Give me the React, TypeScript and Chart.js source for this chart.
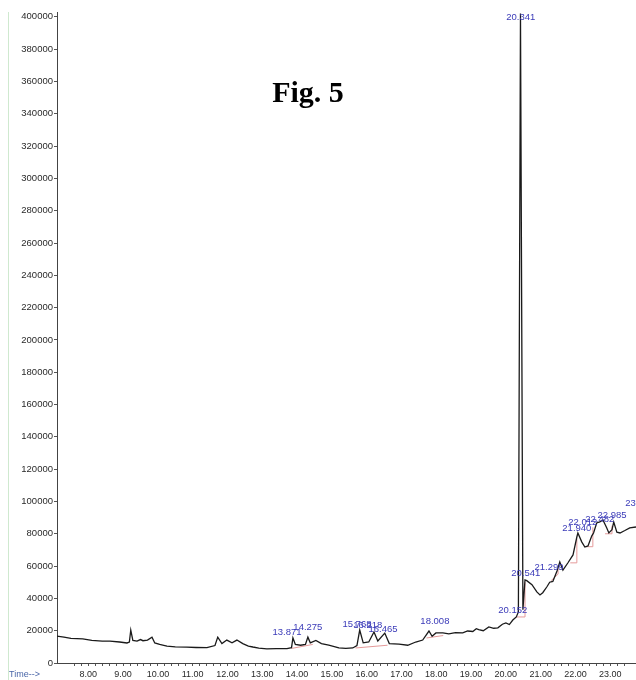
import React, { useEffect, useRef } from "react";
import { Chart, registerables } from "chart.js";

Chart.register(...registerables);

// Retention time (min) of each trace point
const traceTimes = [
  7.1, 7.3, 7.5, 7.84, 8.1, 8.4, 8.62, 8.9, 9.11, 9.18, 9.22, 9.28, 9.4, 9.5, 9.57, 9.7, 9.83, 9.91,
  10.05, 10.26, 10.5, 10.83, 11.1, 11.41, 11.64, 11.72, 11.84, 11.98, 12.13, 12.27, 12.44, 12.6, 12.73,
  12.9, 13.13, 13.4, 13.71, 13.84, 13.88, 13.95, 14.1, 14.24, 14.31, 14.38, 14.54, 14.7, 14.91, 15.2,
  15.4, 15.6, 15.72, 15.8, 15.9, 16.06, 16.21, 16.32, 16.52, 16.65, 16.93, 17.18, 17.41, 17.61, 17.79,
  17.88, 17.99, 18.19, 18.36, 18.55, 18.76, 18.9, 19.05, 19.15, 19.22, 19.35, 19.51, 19.65, 19.77, 19.9,
  20.0, 20.1, 20.2, 20.3, 20.36, 20.42, 20.49, 20.55, 20.6, 20.75, 20.89, 20.98, 21.06, 21.18, 21.26,
  21.35, 21.47, 21.55, 21.64, 21.78, 21.93, 22.04, 22.07, 22.18, 22.27, 22.36, 22.47, 22.52, 22.61, 22.7,
  22.79, 22.9, 22.96, 23.05, 23.1, 23.19, 23.28, 23.42, 23.56, 23.74,
];

// Abundance at each trace point
const traceAbundance = [
  16700, 16000, 15300, 14900, 14000, 13600, 13600, 13000, 12400, 13000, 20400, 14000, 13500, 14500, 13800, 14200, 16000, 12400,
  11500, 10500, 10000, 9800, 9600, 9500, 10800, 16000, 12000, 14200, 12500, 14200, 12000, 10500, 9900,
  9200, 8700, 8900, 8900, 9500, 15500, 11500, 11000, 11500, 16000, 12500, 14000, 12000, 11000, 9300,
  9000, 9300, 10800, 20400, 12500, 13000, 19200, 13600, 18500, 12000, 11700, 11000, 13000, 14200, 19800,
  16500, 18600, 18600, 18000, 18800, 18600, 19800, 19500, 21200, 20600, 20000, 22300, 21500, 21800, 24000,
  24800, 23800, 26600, 28500, 31600, 402000, 33000, 51400, 51000, 48500, 44000, 42100, 43500, 47200, 50000,
  50500, 57000, 62500, 57500, 61900, 66900, 78000, 80500, 75000, 71800, 72500, 78700, 80500, 86700, 87300,
  88500, 83600, 80500, 82500, 87300, 81000, 80500, 82000, 83600, 84200,
];

// Integration baselines (null = gap between segments)
const baselineTimes = [
  13.84, 14.45, 14.46,
  15.68, 16.6, 16.61,
  17.72, 18.2, 18.21,
  20.3, 20.55, 20.55, 20.56,
  21.3, 21.5, 21.5, 21.51,
  21.85, 22.04, 22.04, 22.05,
  22.3, 22.5, 22.5, 22.51,
  22.85, 23.05, 23.05,
];
const baselineAbundance = [
  9000, 11500, null,
  9300, 11000, null,
  15500, 17000, null,
  28500, 28500, 50000, null,
  51000, 55000, 58500, null,
  62000, 62000, 77000, null,
  72000, 72000, 84000, null,
  80000, 80000, 85000,
];

// Peak annotations
const peakLabels = [
  "13.871", "14.275", "15.768", "16.218", "16.465", "18.008", "20.152", "20.341",
  "20.541", "21.299", "21.940", "22.012", "22.482", "22.985", "23.460",
];
const peakLabelTimes = [
  13.71, 14.31, 15.72, 16.03, 16.47, 17.96, 20.2, 20.43,
  20.57, 21.24, 22.04, 22.21, 22.7, 23.05, 23.85,
];
const peakLabelAbundance = [
  19200, 22300, 24100, 23500, 21000, 26000, 32800, 399400,
  55700, 59400, 83600, 87300, 89200, 91600, 99000,
];

const xMajorTicks = [8, 9, 10, 11, 12, 13, 14, 15, 16, 17, 18, 19, 20, 21, 22, 23];
const yTicks = [
  0, 20000, 40000, 60000, 80000, 100000, 120000, 140000, 160000, 180000, 200000,
  220000, 240000, 260000, 280000, 300000, 320000, 340000, 360000, 380000, 400000,
];

const X_MIN = 7.1;
const X_MAX = 23.74;
const Y_MAX = 403000;

export default function App() {
  const ref = useRef<HTMLCanvasElement | null>(null);

  useEffect(() => {
    if (!ref.current) return;

    const trace = traceTimes.map((t, i) => ({ x: t, y: traceAbundance[i] }));
    const base = baselineTimes.map((t, i) => ({ x: t, y: baselineAbundance[i] }));

    const minorTicks: number[] = [];
    xMajorTicks.forEach((m) => {
      for (let k = -2; k <= 2; k++) minorTicks.push(+(m + k * 0.2).toFixed(2));
    });
    const allXTicks = Array.from(new Set(minorTicks))
      .filter((v) => v > X_MIN && v < X_MAX)
      .sort((a, b) => a - b);

    const decor = {
      id: "decor",
      beforeDraw(chart: any) {
        const c = chart.ctx;
        c.save();
        c.fillStyle = "#ffffff";
        c.fillRect(0, 0, chart.width, chart.height);
        c.strokeStyle = "#cfe9cf";
        c.lineWidth = 1;
        c.beginPath();
        c.moveTo(8.5, chart.chartArea.top);
        c.lineTo(8.5, chart.height);
        c.stroke();
        c.restore();
      },
      afterDraw(chart: any) {
        const c = chart.ctx;
        const xs = chart.scales.x;
        const ys = chart.scales.y;
        c.save();
        c.font = '9.5px "Liberation Sans", Arial, sans-serif';
        c.fillStyle = "#3a3ab8";
        c.textAlign = "center";
        c.textBaseline = "middle";
        peakLabels.forEach((lab, i) => {
          c.fillText(lab, xs.getPixelForValue(peakLabelTimes[i]), ys.getPixelForValue(peakLabelAbundance[i]));
        });
        c.font = '9px "Liberation Sans", Arial, sans-serif';
        c.fillStyle = "#4a66a8";
        c.textAlign = "left";
        c.textBaseline = "middle";
        c.fillText("Time-->", 9, 675);
        c.font = 'bold 30px "Liberation Serif", "Times New Roman", serif';
        c.fillStyle = "#000000";
        c.textAlign = "center";
        c.textBaseline = "alphabetic";
        c.fillText("Fig. 5", 308, 102);
        c.restore();
      },
    };

    const chart = new Chart(ref.current, {
      type: "line",
      data: {
        datasets: [
          {
            data: trace,
            borderColor: "#1a1a1a",
            borderWidth: 1.3,
            pointRadius: 0,
            tension: 0,
            fill: false,
          },
          {
            data: base as any,
            borderColor: "#e59a9a",
            borderWidth: 1,
            pointRadius: 0,
            tension: 0,
            fill: false,
            spanGaps: false,
          },
        ],
      },
      options: {
        animation: false,
        responsive: false,
        events: [],
        layout: { padding: { top: 12, left: 0, right: 0, bottom: 0 } },
        plugins: {
          legend: { display: false },
          tooltip: { enabled: false },
          title: { display: false },
        },
        scales: {
          x: {
            type: "linear",
            min: X_MIN,
            max: X_MAX,
            afterBuildTicks: (scale: any) => {
              scale.ticks = allXTicks.map((v) => ({ value: v }));
            },
            afterFit: (scale: any) => {
              scale.height = 17;
            },
            grid: {
              display: true,
              drawOnChartArea: false,
              drawTicks: true,
              tickLength: 3,
              color: "#555555",
            },
            border: { display: true, color: "#444444", width: 1 },
            ticks: {
              autoSkip: false,
              maxRotation: 0,
              minRotation: 0,
              padding: 3,
              color: "#2a2a2a",
              font: { family: '"Liberation Sans", Arial, sans-serif', size: 9 },
              callback: (v: any) => {
                const n = Number(v);
                return xMajorTicks.some((m) => Math.abs(m - n) < 1e-6) ? n.toFixed(2) : "";
              },
            },
          },
          y: {
            type: "linear",
            min: 0,
            max: Y_MAX,
            afterBuildTicks: (scale: any) => {
              scale.ticks = yTicks.map((v) => ({ value: v }));
            },
            afterFit: (scale: any) => {
              scale.width = 57;
            },
            grid: {
              display: true,
              drawOnChartArea: false,
              drawTicks: true,
              tickLength: 3,
              color: "#555555",
            },
            border: { display: true, color: "#444444", width: 1 },
            ticks: {
              autoSkip: false,
              padding: 1,
              color: "#2a2a2a",
              font: { family: '"Liberation Sans", Arial, sans-serif', size: 9.5 },
              callback: (v: any) => String(v),
            },
          },
        },
      },
      plugins: [decor],
    });

    return () => chart.destroy();
  }, []);

  return (
    <div style={{ position: "fixed", left: 0, top: 0, width: 636, height: 680, background: "#fff" }}>
      <canvas ref={ref} width={636} height={680} style={{ display: "block" }} />
    </div>
  );
}
